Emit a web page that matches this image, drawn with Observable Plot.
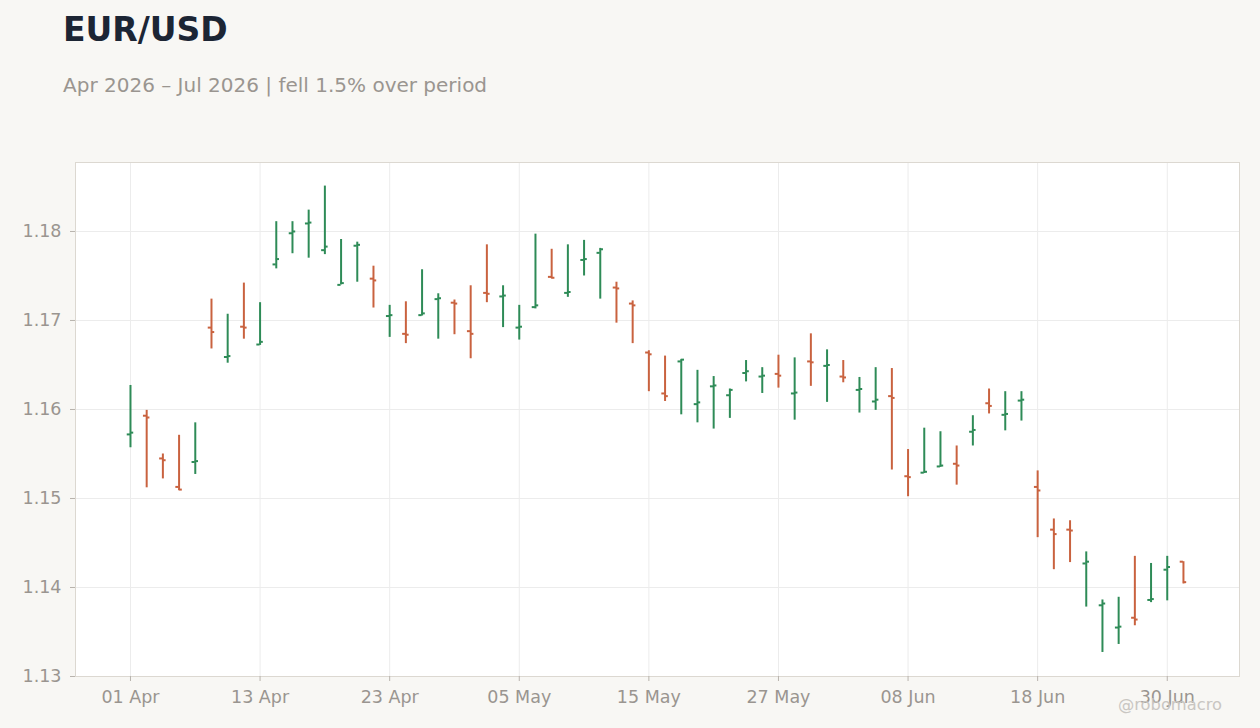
<!DOCTYPE html>
<html>
<head>
<meta charset="utf-8">
<script src="https://cdn.jsdelivr.net/npm/d3@7"></script>
<script src="https://cdn.jsdelivr.net/npm/@observablehq/plot@0.6"></script>
<style>
  html, body { margin: 0; padding: 0; background: #f8f7f4; width: 1260px; height: 728px; overflow: hidden; font-family: "DejaVu Sans", sans-serif; }
  #title { position: absolute; left: 63px; top: 13px; font-size: 33px; line-height: 33px; font-weight: bold; color: #1c2534; white-space: nowrap; }
  #subtitle { position: absolute; left: 63px; top: 75px; font-size: 20px; line-height: 20px; color: #9a9590; white-space: nowrap; }
  #chart { position: absolute; left: 0; top: 140px; }
  #credit { position: absolute; left: 1118px; top: 697px; font-size: 16.3px; line-height: 16px; color: #c9c6c2; white-space: nowrap; }
</style>
</head>
<body>
<div id="title">EUR/USD</div>
<div id="subtitle">Apr 2026 – Jul 2026 | fell 1.5% over period</div>
<div id="chart"></div>
<div id="credit">@robomacro</div>
<script>
// Trading days start date (business days, 66 sessions)
const startDate = "2026-04-01";
const sessionCount = 66;

const openVals = [
  1.1572, 1.1593, 1.1545, 1.1513, 1.1541, 1.1692, 1.1659, 1.1693, 1.1673, 1.1763,
  1.1798, 1.1809, 1.1779, 1.1740, 1.1784, 1.1747, 1.1705, 1.1685, 1.1706, 1.1724,
  1.1720, 1.1688, 1.1731, 1.1727, 1.1692, 1.1715, 1.1749, 1.1731, 1.1768, 1.1776,
  1.1737, 1.1719, 1.1664, 1.1618, 1.1654, 1.1606, 1.1626, 1.1616, 1.1641, 1.1637,
  1.1640, 1.1618, 1.1654, 1.1649, 1.1637, 1.1622, 1.1609, 1.1615, 1.1525, 1.1529,
  1.1536, 1.1539, 1.1575, 1.1607, 1.1594, 1.1610, 1.1513, 1.1465, 1.1465, 1.1427,
  1.1380, 1.1355, 1.1366, 1.1386, 1.1420, 1.1429
];
const highVals = [
  1.1627, 1.1599, 1.1550, 1.1571, 1.1585, 1.1724, 1.1707, 1.1742, 1.1720, 1.1811,
  1.1811, 1.1824, 1.1851, 1.1791, 1.1788, 1.1761, 1.1717, 1.1721, 1.1757, 1.1730,
  1.1723, 1.1739, 1.1785, 1.1739, 1.1717, 1.1797, 1.1780, 1.1785, 1.1790, 1.1781,
  1.1743, 1.1722, 1.1666, 1.1660, 1.1656, 1.1644, 1.1637, 1.1623, 1.1655, 1.1647,
  1.1661, 1.1658, 1.1685, 1.1667, 1.1655, 1.1636, 1.1647, 1.1646, 1.1555, 1.1579,
  1.1575, 1.1559, 1.1593, 1.1623, 1.1620, 1.1620, 1.1531, 1.1477, 1.1475, 1.1440,
  1.1386, 1.1389, 1.1435, 1.1427, 1.1435, 1.1429
];
const lowVals = [
  1.1557, 1.1512, 1.1522, 1.1509, 1.1527, 1.1668, 1.1652, 1.1679, 1.1672, 1.1758,
  1.1775, 1.1770, 1.1774, 1.1740, 1.1743, 1.1714, 1.1681, 1.1674, 1.1705, 1.1679,
  1.1684, 1.1657, 1.1720, 1.1692, 1.1678, 1.1713, 1.1747, 1.1726, 1.1750, 1.1724,
  1.1697, 1.1674, 1.1620, 1.1609, 1.1594, 1.1585, 1.1578, 1.1590, 1.1631, 1.1618,
  1.1624, 1.1588, 1.1626, 1.1608, 1.1630, 1.1596, 1.1599, 1.1532, 1.1502, 1.1528,
  1.1535, 1.1515, 1.1559, 1.1595, 1.1576, 1.1587, 1.1456, 1.1420, 1.1428, 1.1378,
  1.1327, 1.1336, 1.1357, 1.1383, 1.1385, 1.1404
];
const closeVals = [
  1.1574, 1.1591, 1.1543, 1.1510, 1.1542, 1.1687, 1.1660, 1.1692, 1.1676, 1.1769,
  1.1800, 1.1810, 1.1783, 1.1742, 1.1785, 1.1745, 1.1706, 1.1684, 1.1708, 1.1725,
  1.1719, 1.1685, 1.1730, 1.1728, 1.1693, 1.1717, 1.1748, 1.1732, 1.1769, 1.1780,
  1.1736, 1.1717, 1.1662, 1.1615, 1.1656, 1.1608, 1.1627, 1.1622, 1.1643, 1.1638,
  1.1638, 1.1619, 1.1653, 1.1650, 1.1636, 1.1623, 1.1611, 1.1613, 1.1524, 1.1530,
  1.1537, 1.1537, 1.1577, 1.1604, 1.1595, 1.1611, 1.1509, 1.1460, 1.1464, 1.1429,
  1.1382, 1.1356, 1.1364, 1.1387, 1.1423, 1.1406
];
const yTicks = [1.13, 1.14, 1.15, 1.16, 1.17, 1.18];
const xTickEvery = 8;

const upColor = "#2e8b57";
const downColor = "#c9623f";

// business-day calendar
const dates = [];
{
  let d = new Date(startDate + "T00:00:00Z");
  while (dates.length < sessionCount) {
    const wd = d.getUTCDay();
    if (wd !== 0 && wd !== 6) dates.push(new Date(d));
    d = d3.utcDay.offset(d, 1);
  }
}
const fmt = d3.utcFormat("%d %b");

const data = openVals.map((o, i) => ({
  i, date: dates[i], open: o, high: highVals[i], low: lowVals[i], close: closeVals[i],
  up: closeVals[i] >= o
}));
const xTicks = d3.range(0, sessionCount, xTickEvery);
const tickLen = 0.2;

const chart = Plot.plot({
  width: 1260,
  height: 588,
  marginLeft: 75,
  marginRight: 21,
  marginTop: 22,
  marginBottom: 52,
  style: { background: "transparent", fontFamily: "DejaVu Sans, sans-serif", fontSize: "17.5px", color: "#9a9590", overflow: "visible" },
  x: { type: "linear", domain: [-3.394, 68.46] },
  y: { domain: [1.13, 1.18775] },
  color: { domain: [true, false], range: [upColor, downColor] },
  marks: [
    Plot.frame({ fill: "white", stroke: "none" }),
    Plot.gridX(xTicks, { stroke: "#ececec", strokeOpacity: 1 }),
    Plot.gridY(yTicks, { stroke: "#ececec", strokeOpacity: 1 }),
    Plot.frame({ stroke: "#dcd8d1" }),
    Plot.axisX(xTicks, { tickFormat: i => fmt(dates[i]), tickSize: 5, tickPadding: 9, stroke: "#b8b3ad", fill: "#9a9590", label: null }),
    Plot.axisY(yTicks, { tickFormat: d3.format(".2f"), tickSize: 5, tickPadding: 9, stroke: "#b8b3ad", fill: "#9a9590", label: null }),
    Plot.ruleX(data, { x: "i", y1: "low", y2: "high", stroke: "up", strokeWidth: 2 }),
    Plot.ruleY(data, { y: "open", x1: d => d.i - tickLen, x2: d => d.i, stroke: "up", strokeWidth: 2 }),
    Plot.ruleY(data, { y: "close", x1: d => d.i, x2: d => d.i + tickLen, stroke: "up", strokeWidth: 2 })
  ]
});
document.getElementById("chart").appendChild(chart);
</script>
</body>
</html>
